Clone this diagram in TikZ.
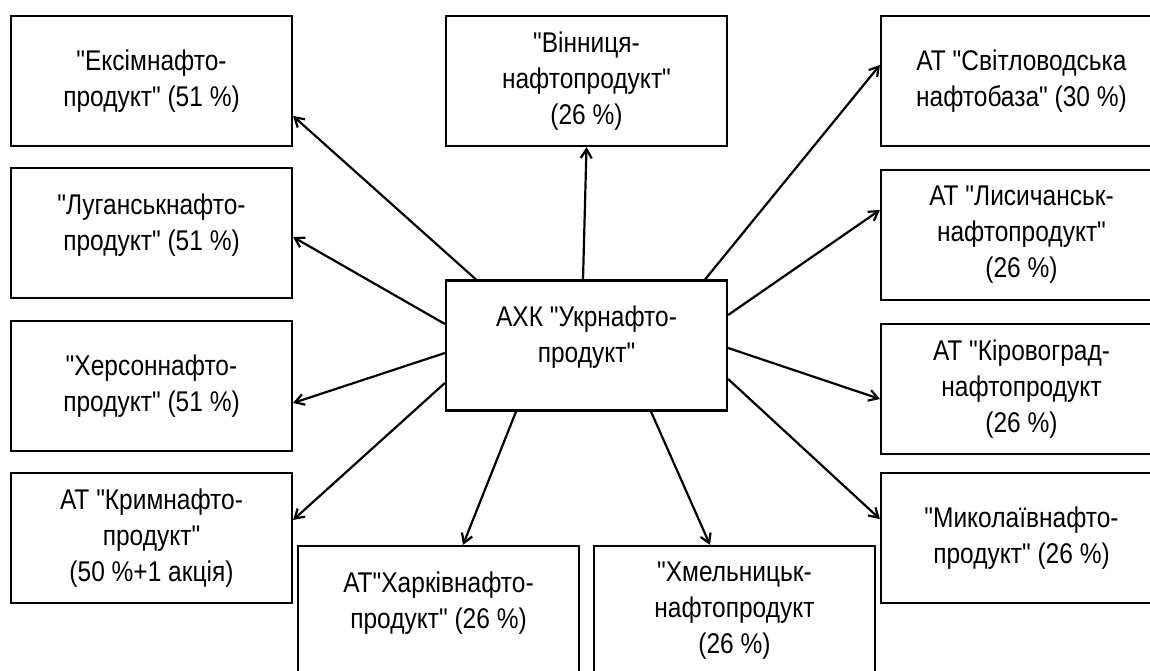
\documentclass[tikz,border=0pt]{standalone}
\usepackage{fontspec}
\setmainfont{Liberation Sans}[FakeStretch=0.86,Ligatures=TeXOff]
\usepackage{tikz}
\usetikzlibrary{arrows.meta}
\usetikzlibrary{positioning}
\tikzstyle{org}=[draw,rectangle,line width=2.2pt,minimum width=281pt,minimum height=130pt,inner sep=2pt,align=center,font=\fontsize{28.5}{36}\selectfont]
\tikzstyle{raised}=[text depth=22pt]
\tikzstyle{link}=[line width=2.2pt,-{Straight Barb[length=9pt,width=11pt]}]

\begin{document}
\begin{tikzpicture}[x=1pt,y=1pt]
\useasboundingbox (0,0) rectangle (1150,671);
\clip (0,0) rectangle (1150,671);
    \node [org,raised] (h) at (586.5,325.5) {АХК "Укрнафто-\\продукт"};
    % left column
    \node [org] (ex) at (151.5,590) {"Ексімнафто-\\продукт" (51 \%)};
    \node [org,raised] (lug) at (151.5,438) {"Луганськнафто-\\продукт" (51 \%)};
    \node [org] (kher) at (151.5,285) {"Херсоннафто-\\продукт" (51 \%)};
    \node [org] (krym) at (151.5,133) {АТ "Кримнафто-\\продукт"\\(50 \%+1 акція)};
    % top and bottom
    \node [org] (vin) at (586.5,590) {"Вінниця-\\нафтопродукт"\\(26 \%)};
    \node [org,raised] (khar) at (438.5,60) {АТ"Харківнафто-\\продукт" (26 \%)};
    \node [org] (khm) at (734.5,60) {"Хмельницьк-\\нафтопродукт\\(26 \%)};
    % right column
    \node [org] (svit) at (1021.5,590) {АТ "Світловодська\\нафтобаза" (30 \%)};
    \node [org] (lys) at (1021.5,436) {АТ "Лисичанськ-\\нафтопродукт"\\(26 \%)};
    \node [org] (kir) at (1021.5,282) {АТ "Кіровоград-\\нафтопродукт\\(26 \%)};
    \node [org] (myk) at (1021.5,133) {"Миколаївнафто-\\продукт" (26 \%)};

    \draw [link] ([xshift=31pt]h.north west) -- ([yshift=-35pt]ex.east);
    \draw [link] ([yshift=21.5pt]h.west) -- ([yshift=-4pt]lug.east);
    \draw [link] ([yshift=-7.5pt]h.west) -- ([yshift=-17pt]kher.east);
    \draw [link] ([yshift=-37.5pt]h.west) -- ([yshift=18pt]krym.east);
    \draw [link] ([xshift=-3.5pt]h.north) -- (vin.south);
    \draw [link] ([xshift=-23pt]h.north east) -- ([yshift=16pt]svit.west);
    \draw [link] ([yshift=30.5pt]h.east) -- ([yshift=25pt]lys.west);
    \draw [link] ([yshift=-2.5pt]h.east) -- ([yshift=-10pt]kir.west);
    \draw [link] ([yshift=-33.5pt]h.east) -- ([yshift=19pt]myk.west);
    \draw [link] ([xshift=-70.5pt]h.south) -- ([xshift=24.5pt]khar.north);
    \draw [link] ([xshift=64.5pt]h.south) -- ([xshift=-24.5pt]khm.north);
\end{tikzpicture}
\end{document}
